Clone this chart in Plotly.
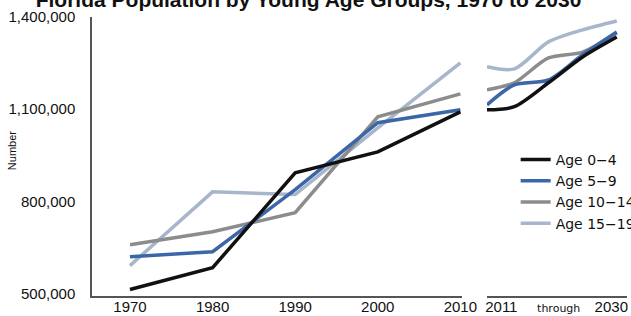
import plotly.graph_objects as go

# ---- data ----
years_hist = [1970, 1980, 1990, 2000, 2010]
years_proj = [2011, 2015, 2020, 2025, 2030]
groups = ["Age 0−4", "Age 5−9", "Age 10−14", "Age 15−19"]
hist_0_4 = [513000, 584000, 893000, 961000, 1091000]
hist_5_9 = [620000, 636000, 838000, 1056000, 1098000]
hist_10_14 = [659000, 701000, 763000, 1075000, 1150000]
hist_15_19 = [591000, 831000, 822000, 1039000, 1251000]
proj_0_4 = [1098000, 1108000, 1186000, 1270000, 1335000]
proj_5_9 = [1114000, 1179000, 1195000, 1277000, 1351000]
proj_10_14 = [1163000, 1186000, 1267000, 1286000, 1348000]
proj_15_19 = [1238000, 1231000, 1319000, 1358000, 1387000]
y_ticks = [500000, 800000, 1100000, 1400000]
x_ticks_hist = [1970, 1980, 1990, 2000, 2010]
x_ticks_proj_labels = ["2011",
                       "<span style='font-size:11px;font-family:DejaVu Sans'>through</span>",
                       "2030"]

hist = [hist_0_4, hist_5_9, hist_10_14, hist_15_19]
proj = [proj_0_4, proj_5_9, proj_10_14, proj_15_19]
colors = ["#111111", "#3d66a8", "#8c8c8c", "#a8b6cc"]

FONT = "Liberation Sans, Arial, Helvetica, sans-serif"

fig = go.Figure()
# draw lightest first so black is on top
for i in reversed(range(4)):
    fig.add_trace(go.Scatter(
        x=years_hist, y=hist[i], mode="lines", name=groups[i],
        line=dict(color=colors[i], width=3.5), legendrank=i + 1,
        xaxis="x", yaxis="y"))
    fig.add_trace(go.Scatter(
        x=years_proj, y=proj[i], mode="lines", name=groups[i], showlegend=False,
        line=dict(color=colors[i], width=3.5, shape="spline", smoothing=0.8),
        xaxis="x2", yaxis="y"))

axis_col = "#555555"
fig.update_layout(
    width=631, height=316,
    margin=dict(l=92, r=0, t=17, b=20, autoexpand=False),
    paper_bgcolor="white", plot_bgcolor="white",
    font=dict(family=FONT, size=15, color="#111111"),
    title=dict(text="<b>Florida Population by Young Age Groups, 1970 to 2030</b>",
               x=0.489, xanchor="center", y=1, yref="container", yanchor="middle",
               font=dict(size=21, family=FONT, color="#111111")),
    xaxis=dict(domain=[0, 0.6865], range=[1965.4, 2010.2], showgrid=False,
               zeroline=False, showline=True, linecolor=axis_col, linewidth=1.5,
               tickvals=x_ticks_hist, ticks="", tickfont=dict(size=15),
               ticklabelstandoff=-4),
    xaxis2=dict(domain=[0.7328, 0.9926], range=[2011, 2031.5], showgrid=False,
                zeroline=False, showline=True, linecolor=axis_col, linewidth=1.5,
                anchor="y", tickvals=[2013.1, 2021.5, 2029.2],
                ticktext=x_ticks_proj_labels, ticks="", tickfont=dict(size=15),
                ticklabelstandoff=-4),
    yaxis=dict(range=[492000, 1400000], showgrid=False, zeroline=False,
               showline=True, linecolor=axis_col, linewidth=1.5,
               tickvals=y_ticks, tickformat=",", ticks="", ticklabelstandoff=12,
               tickfont=dict(size=15)),
    legend=dict(x=0.786, y=0.545, xanchor="left", yanchor="top",
                bgcolor="rgba(0,0,0,0)", font=dict(size=14, family="DejaVu Sans"),
                itemwidth=30, tracegroupgap=0),
    showlegend=True,
    annotations=[dict(text="Number", textangle=-90, xref="paper", yref="paper",
                      x=-0.148, y=0.52, xanchor="center", yanchor="middle",
                      showarrow=False, font=dict(size=11, family=FONT))],
)

fig.write_html("out.html", config={"displayModeBar": False},
               post_script="document.body.style.margin='0';document.body.style.overflow='hidden';")
